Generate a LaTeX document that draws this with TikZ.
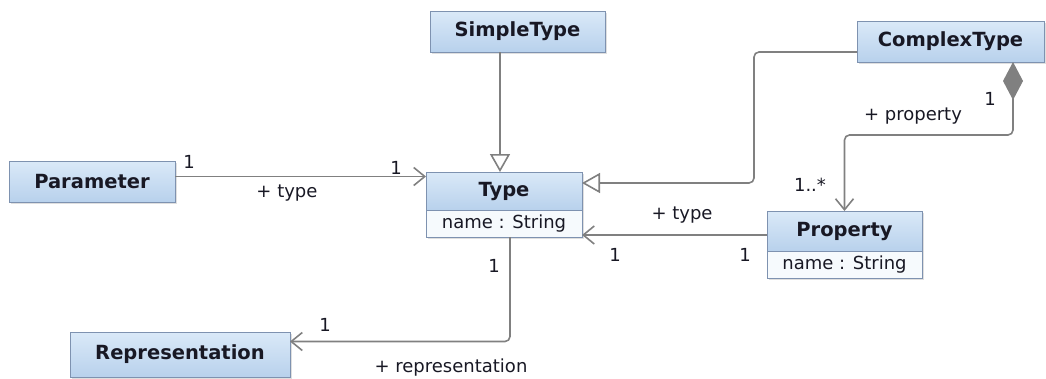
\documentclass[tikz,border=0pt]{standalone}
\usepackage{fontspec}
\setmainfont{DejaVu Sans}
\usetikzlibrary{positioning}
\usetikzlibrary{arrows.meta}
\usetikzlibrary{shadows}

\definecolor{boxtop}{RGB}{218,233,248}
\definecolor{boxbot}{RGB}{184,209,236}
\definecolor{boxline}{RGB}{126,146,176}
\definecolor{wire}{RGB}{128,128,128}
\definecolor{ink}{RGB}{24,24,36}

\begin{document}
\begin{tikzpicture}[
    x=1pt, y=-1pt,
% Class box styles
    cls/.style={rectangle,draw=boxline,line width=1pt,top color=boxtop,
		bottom color=boxbot,minimum height=41pt,inner sep=0pt,outer sep=0pt,
		font=\fontsize{19.5}{22}\selectfont\bfseries,text=ink,
		drop shadow={opacity=0.25,shadow xshift=2pt,shadow yshift=-2pt}},
    attr/.style={rectangle,draw=boxline,line width=1pt,fill=boxtop!25,
		minimum height=27pt,inner sep=0pt,outer sep=0pt,
		font=\fontsize{18}{20}\selectfont,text=ink,
		drop shadow={opacity=0.25,shadow xshift=2pt,shadow yshift=-2pt}},
% Label style
    mult/.style={font=\fontsize{18}{20}\selectfont,text=ink,inner sep=1pt},
% Connector styles
    wire/.style={draw=wire,line width=1.6pt,rounded corners=5pt},
    assoc/.style={wire,-{Straight Barb[length=11pt,width=18pt]}},
    gen/.style={wire,-{Triangle[open,length=18pt,width=20pt,fill=white]}},
    comp/.style={wire,{Diamond[length=38pt,width=20pt,fill=wire]}-{Straight Barb[length=11pt,width=18pt]}}
    ]
  \useasboundingbox (0,0) rectangle (1046,378);

  \node (param) [cls,minimum width=166pt] at (92,181.5) {Parameter};
  \node (simple) [cls,minimum width=175pt] at (517.5,31.5) {SimpleType};
  \node (type) [cls,minimum width=156pt,minimum height=38pt] at (504,191) {Type};
  \node (typeattr) [attr,minimum width=156pt,below=0pt of type] {name : String};
  \node (complex) [cls,minimum width=187pt] at (950.5,41.5) {ComplexType};
  \node (prop) [cls,minimum width=155pt,minimum height=40pt] at (844.5,231) {Property};
  \node (propattr) [attr,minimum width=155pt,below=0pt of prop] {name : String};
  \node (repr) [cls,minimum width=220pt,minimum height=45pt] at (180,354.5) {Representation};

% generalizations
  \draw[gen] ([xshift=-4pt]type.north |- simple.south) -- ([xshift=-4pt]type.north);
  \draw[gen] ([yshift=-10.5pt]complex.west) -- ++(-103,0) |- ([yshift=8pt]type.east);
% associations
  \draw[assoc] ([yshift=5pt]param.east) -- ([yshift=5pt]param.east -| type.west);
  \draw[comp] ([xshift=62.5pt]complex.south) -- ++(0,73) -| (prop.north);
  \draw[assoc] ([yshift=-4pt]prop.west) -- ([yshift=-4pt]prop.west -| typeattr.east);
  \draw[assoc] ([xshift=6pt]typeattr.south) |- ([yshift=13pt]repr.east);

% roles and multiplicities
  \node (m1) [mult] at (189,162) {1};
  \node (m2) [mult] at (396,168) {1};
  \node (r1) [mult] at (287,193) {+ type};
  \node (m3) [mult] at (990,99) {1};
  \node (r2) [mult] at (913,116) {+ property};
  \node (m4) [mult] at (810,185) {1..*};
  \node (r3) [mult] at (682,215) {+ type};
  \node (m5) [mult] at (615,255) {1};
  \node (m6) [mult] at (745,255) {1};
  \node (m7) [mult] at (494,266) {1};
  \node (m8) [mult] at (325,325) {1};
  \node (r4) [mult] at (451,368) {+ representation};

\end{tikzpicture}
\end{document}
